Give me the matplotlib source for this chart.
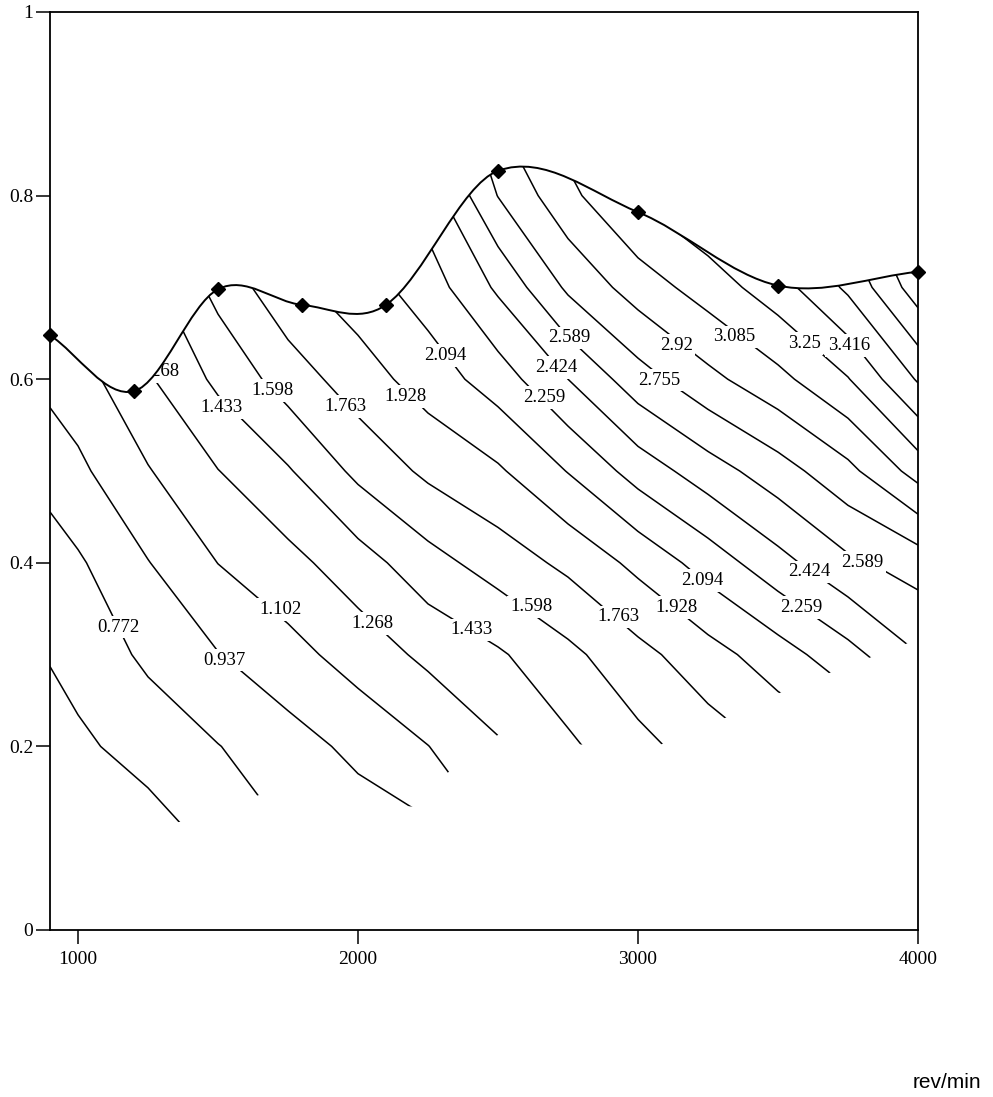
import numpy as np
import matplotlib
matplotlib.use("Agg")
import matplotlib.pyplot as plt
from matplotlib.path import Path
from matplotlib.patches import PathPatch

# ---------------- data ----------------
speed_rpm = [900, 1000, 1250, 1500, 1750, 2000, 2250, 2500, 2750, 3000, 3250, 3500, 3750, 4000]
load_rows = [0.1, 0.2, 0.3, 0.4, 0.5, 0.6, 0.7, 0.8, 0.9]

# estimated field value at each (load row, speed column)
z_load_010 = [0.36, 0.407, 0.528, 0.648, 0.769, 0.840, 0.890, 1.105, 1.25, 1.40, 1.54, 1.68, 1.80, 1.93]
z_load_020 = [0.54, 0.576, 0.672, 0.767, 0.869, 0.978, 1.099, 1.249, 1.402, 1.550, 1.677, 1.792, 1.901, 2.069]
z_load_030 = [0.617, 0.666, 0.804, 0.931, 1.044, 1.174, 1.306, 1.411, 1.557, 1.713, 1.862, 2.019, 2.201, 2.42]
z_load_040 = [0.70, 0.750, 0.931, 1.104, 1.216, 1.359, 1.536, 1.674, 1.801, 1.972, 2.166, 2.367, 2.556, 2.66]
z_load_050 = [0.830, 0.902, 1.091, 1.264, 1.417, 1.639, 1.798, 1.905, 2.101, 2.329, 2.512, 2.682, 2.874, 3.151]
z_load_060 = [0.985, 1.030, 1.248, 1.469, 1.674, 1.849, 2.004, 2.175, 2.424, 2.683, 2.874, 3.037, 3.241, 3.599]
z_load_070 = [1.10, 1.16, 1.38, 1.651, 1.881, 2.014, 2.174, 2.452, 2.785, 2.997, 3.161, 3.343, 3.613, 4.0]
z_load_080 = [1.22, 1.29, 1.51, 1.83, 2.09, 2.18, 2.34, 2.760, 3.039, 3.27, 3.42, 3.57, 3.85, 4.2]
z_load_090 = [1.35, 1.42, 1.64, 2.0, 2.3, 2.35, 2.5, 2.95, 3.2, 3.45, 3.6, 3.8, 4.05, 4.4]

contour_levels = [0.607, 0.772, 0.937, 1.102, 1.268, 1.433, 1.598, 1.763, 1.928, 2.094,
                  2.259, 2.424, 2.589, 2.755, 2.92, 3.085, 3.25, 3.416, 3.581, 3.746, 3.911, 4.077]

# upper limit curve (diamond points)
limit_rpm = [900, 1200, 1500, 1800, 2100, 2500, 3000, 3500, 4000]
limit_load = [0.648, 0.587, 0.698, 0.681, 0.681, 0.827, 0.782, 0.702, 0.717]

# lower edge of the mapped region
lower_rpm = [900, 1370, 1646, 2214, 2323, 2515, 2798, 3081, 3319, 3533, 3692, 3831, 3968, 4000]
lower_load = [0.10, 0.118, 0.147, 0.134, 0.172, 0.216, 0.202, 0.202, 0.232, 0.262, 0.281, 0.297, 0.313, 0.32]

x_ticks = [1000, 2000, 3000, 4000]
x_tick_labels = ["1000", "2000", "3000", "4000"]
y_ticks = [0, 0.2, 0.4, 0.6, 0.8, 1.0]
y_tick_labels = ["0", "0.2", "0.4", "0.6", "0.8", "1"]

# contour label placement (level, anchor)
label_levels = [1.268, 1.433, 1.598, 1.763, 1.928, 2.094, 2.259, 2.424, 2.589, 2.755, 2.92, 3.085, 3.25, 3.416,
                0.772, 0.937, 1.102, 1.268, 1.433, 1.598, 1.763, 1.928, 2.094, 2.259, 2.424, 2.589]
label_xy = [(1289, 0.608), (1514, 0.569), (1693, 0.588), (1954, 0.570), (2171, 0.581), (2311, 0.626),
            (2664, 0.580), (2707, 0.613), (2754, 0.645), (3075, 0.599), (3136, 0.637), (3343, 0.646),
            (3593, 0.639), (3754, 0.637),
            (1143, 0.330), (1521, 0.294), (1725, 0.349), (2050, 0.334), (2404, 0.327), (2618, 0.352),
            (2932, 0.341), (3139, 0.351), (3229, 0.381), (3582, 0.351), (3611, 0.390), (3800, 0.400)]

# ---------------- figure ----------------
plt.rcParams['font.family'] = ['Liberation Serif', 'DejaVu Serif']

W, H = 993, 1097
fig = plt.figure(figsize=(W / 100, H / 100), dpi=100)
ax = fig.add_axes([50 / W, 1 - 930 / H, 868 / W, 918 / H])

Z = np.array([z_load_010, z_load_020, z_load_030, z_load_040, z_load_050,
              z_load_060, z_load_070, z_load_080, z_load_090])

# smooth limit curve through the diamonds (cubic Hermite as Bezier segments)
bx = np.array(limit_rpm, float)
by = np.array(limit_load, float)
m = np.empty_like(bx)
m[0] = (by[1] - by[0]) / (bx[1] - bx[0])
m[-1] = (by[-1] - by[-2]) / (bx[-1] - bx[-2])
m[1:-1] = (by[2:] - by[:-2]) / (bx[2:] - bx[:-2])
curve_v = [(bx[0], by[0])]
curve_c = [Path.MOVETO]
for i in range(len(bx) - 1):
    h = bx[i + 1] - bx[i]
    curve_v += [(bx[i] + h / 3, by[i] + m[i] * h / 3),
                (bx[i + 1] - h / 3, by[i + 1] - m[i + 1] * h / 3),
                (bx[i + 1], by[i + 1])]
    curve_c += [Path.CURVE4] * 3

# clip region: below the limit curve, above the lower edge
clip_v = list(curve_v)
clip_c = list(curve_c)
for xr, yr in zip(lower_rpm[::-1], lower_load[::-1]):
    clip_v.append((xr, yr))
    clip_c.append(Path.LINETO)
clip_v.append((bx[0], by[0]))
clip_c.append(Path.CLOSEPOLY)
clip_patch = PathPatch(Path(clip_v, clip_c), transform=ax.transData,
                       facecolor='none', edgecolor='none')

cs = ax.contour(speed_rpm, load_rows, Z, levels=contour_levels,
                colors='black', linewidths=1.1)
cs.set_clip_path(clip_patch)

for lev, (lx, ly) in zip(label_levels, label_xy):
    ax.text(lx, ly, f"{lev:g}", ha='center', va='center', fontsize=13.5, zorder=3,
            bbox=dict(boxstyle='square,pad=0.15', facecolor='white', edgecolor='none'))

# white area above the limit curve (hides label parts that fall outside)
mask_v = list(curve_v) + [(bx[-1], 1.0), (bx[0], 1.0), (bx[0], by[0])]
mask_c = list(curve_c) + [Path.LINETO, Path.LINETO, Path.CLOSEPOLY]
ax.add_patch(PathPatch(Path(mask_v, mask_c), facecolor='white', edgecolor='none', zorder=3.5))

ax.add_patch(PathPatch(Path(curve_v, curve_c), fill=False, edgecolor='black',
                       linewidth=1.4, zorder=4))
ax.plot(limit_rpm, limit_load, linestyle='none', marker='D', color='black',
        markersize=7.5, zorder=5, clip_on=False)

ax.set_xlim(900, 4000)
ax.set_ylim(0, 1)
ax.set_xticks(x_ticks)
ax.set_xticklabels(x_tick_labels)
ax.set_yticks(y_ticks)
ax.set_yticklabels(y_tick_labels)
ax.tick_params(direction='out', length=10, width=1.1, labelsize=14, colors='black')
ax.tick_params(axis='y', pad=2)
ax.tick_params(axis='x', pad=5)
for s in ax.spines.values():
    s.set_linewidth(1.3)
    s.set_color('black')
    s.set_zorder(6)

fig.text(947 / W, 1 - 1082 / H, 'rev/min', fontsize=15, family='Liberation Sans',
         ha='center', va='center')

fig.savefig('out.png', dpi=100, facecolor='white')
